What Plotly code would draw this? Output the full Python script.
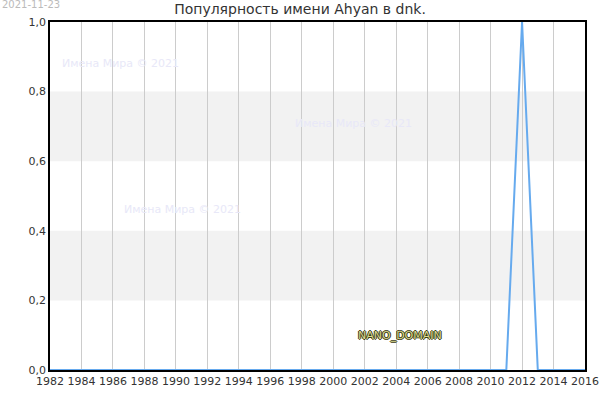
import plotly.graph_objects as go

# popularity of the name per year
years = list(range(1982, 2017))
values = [0] * 30 + [1] + [0] * 4  # peak in 2012

bands = [(0.2, 0.4), (0.6, 0.8)]
watermarks = [(1986.45, 0.882), (2001.3, 0.707), (1990.4, 0.46)]

fig = go.Figure(
    go.Scatter(
        x=years,
        y=values,
        mode="lines",
        line=dict(color="#66aaee", width=2),
        hoverinfo="x+y",
    )
)

shapes = [
    dict(type="rect", xref="paper", x0=0, x1=1, yref="y", y0=a, y1=b,
         fillcolor="#f2f2f2", line_width=0, layer="below")
    for a, b in bands
]

annotations = [
    dict(x=x, y=y, text="Имена Мира © 2021", showarrow=False,
         font=dict(color="#e8e8f8", size=11))
    for x, y in watermarks
]
annotations.append(dict(
    x=2004.24, y=0.098, text="NANO_DOMAIN", showarrow=False,
    font=dict(color="#d8d890", size=11,
              shadow="-1px 0 #3a3a10, 1px 0 #3a3a10, 0 -1px #3a3a10, 0 1px #3a3a10"),
))
annotations.append(dict(
    xref="paper", yref="paper", x=-0.093, y=1.05, xanchor="left", yanchor="middle",
    text="2021-11-23", showarrow=False, font=dict(color="#bbbbbb", size=10),
))

fig.update_layout(
    width=600,
    height=400,
    margin=dict(l=50, r=15, t=22, b=30),
    paper_bgcolor="white",
    plot_bgcolor="white",
    separators=", ",
    font=dict(family="DejaVu Sans", size=11, color="#333333"),
    title=dict(text="Популярность имени Ahyan в dnk.", x=0.5, xanchor="center",
               y=0.99, yanchor="top", font=dict(size=14, color="#333333")),
    showlegend=False,
    shapes=shapes,
    annotations=annotations,
    xaxis=dict(range=[1982, 2016], dtick=2, tick0=1982, showgrid=True,
               gridcolor="#cccccc", gridwidth=1, showline=True, linecolor="black",
               linewidth=1.5, mirror=True, zeroline=False, ticks="",
               automargin=False),
    yaxis=dict(range=[0, 1], dtick=0.2, tickformat=".1f", showgrid=False,
               showline=True, linecolor="black", linewidth=1.5, mirror=True,
               zeroline=False, ticks="", automargin=False),
)

# page margin off so the 600x400 figure fills the window
fig.write_html("out.html", config={"displayModeBar": False},
               post_script="document.body.style.margin='0';")
